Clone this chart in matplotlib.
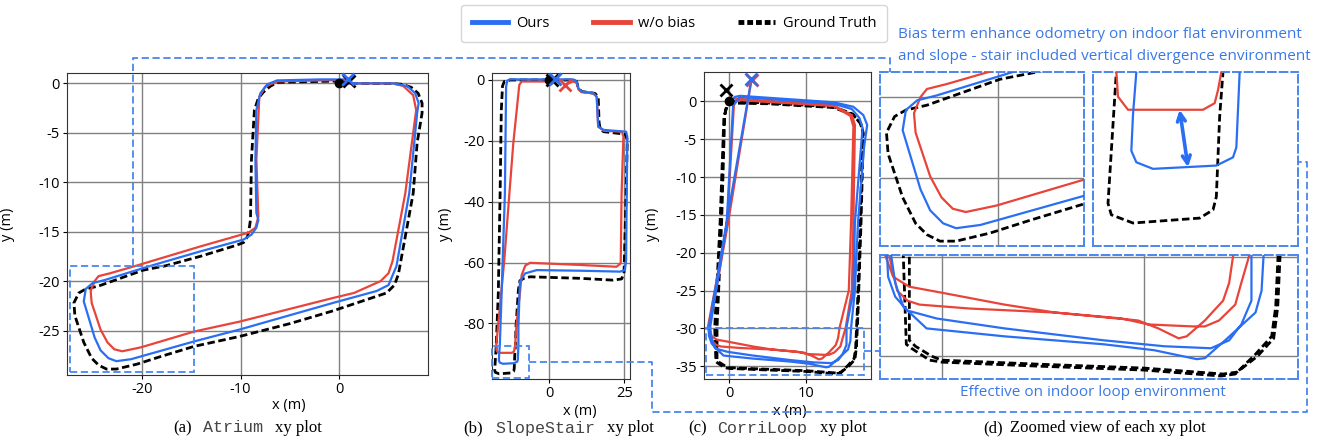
import matplotlib
matplotlib.use("Agg")
import matplotlib.pyplot as plt
from matplotlib.lines import Line2D
from matplotlib.patches import Rectangle

# ---- data (metres) ----
atrium_gt_x = [0, 3, 5.5, 6.4, 7.3, 8.0, 8.4, 8.4, 7.9, 7.5, 6.0, 5.6, 4.8, 3.6, 1.5, -0.6, -5, -10.1, -14.7,
               -18, -20.5, -22.6, -23.6, -24.4, -25.1, -25.9, -26.8, -26.9, -26.4, -25.7, -24.4, -19.9, -17.6,
               -14.1, -10.5, -9.7, -9.3, -9.1, -9.0, -8.9, -8.6, -8.2, -7.7, -7.0, -6.3, -2, 1.0]
atrium_gt_y = [0, 0, -0.02, -0.1, -0.4, -1.0, -2.0, -3.0, -6, -11.1, -19.3, -20.4, -21.2, -21.6, -22.3, -23.0,
               -24.3, -25.6, -26.6, -27.6, -28.4, -28.9, -28.9, -28.5, -27.8, -26.2, -23.5, -22.2, -21.2, -20.8,
               -20.5, -18.9, -18.45, -17.5, -16.4, -16.1, -15.5, -14.5, -13.8, -7.7, -2.7, -1.5, -0.9, -0.3, 0.1,
               0.2, 0.25]
atrium_ours_x = [0, 3, 5.5, 6.9, 7.7, 8.05, 7.9, 7.1, 5.8, 5.5, 5.0, 3.8, -0.6, -10.1, -14.7, -21.1, -22.6,
                 -23.4, -24.2, -24.8, -25.9, -25.7, -25.0, -23.8, -19.1, -14.1, -9.7, -8.9, -8.4, -8.2, -8.4,
                 -8.5, -8.4, -8.0, -7.3, -6.3, -2, 0.9]
atrium_ours_y = [0, 0, 0, -0.27, -1.0, -2.0, -3.0, -11.1, -18.5, -19.2, -20.4, -21.0, -22.2, -24.9, -26.1,
                 -27.9, -28.1, -27.8, -27.0, -25.7, -22.05, -20.8, -20.2, -19.9, -18.45, -17.0, -15.8, -15.3,
                 -14.6, -13.8, -13.1, -7.7, -2.7, -1.0, -0.1, 0.3, 0.4, 0.4]
atrium_wob_x = [0, 5.5, 6.5, 7.5, 7.8, 6.7, 5.4, 5.0, 4.2, 1.5, -0.6, -10.1, -14.7, -20.1, -22.0, -22.8, -23.5,
                -24.2, -25.1, -25.2, -24.8, -24.4, -23.2, -20.6, -14.1, -9.2, -8.5, -8.2, -8.4, -8.1, -7.5,
                -6.3, -2, 0.9]
atrium_wob_y = [0, 0, -0.27, -1.2, -2.7, -11.1, -18.0, -19.2, -20.0, -21.2, -21.7, -24.1, -25.1, -26.7, -27.1,
                -26.9, -26.2, -24.9, -22.2, -21.0, -20.0, -19.5, -19.2, -18.45, -16.5, -15.1, -14.6, -13.5,
                -7.7, -1.35, -0.34, 0.2, 0.3, 0.35]
atrium_start = (0, 0)
atrium_end_x = [0.9, 1.0, 0.9]   # w/o bias, GT, Ours
atrium_end_y = [0.35, 0.25, 0.4]

stair_gt_x = [0, -13.1, -15.0, -15.6, -16.0, -16.4, -17.0, -17.7, -18.2, -18.0, -16.7, -12.7, -11.9, -11.7,
              -11.5, -11.3, -11.1, -10.3, -9.8, -8.5, -6.4, 10.2, 21.3, 24.1, 24.9, 25.6, 26.0, 25.3, 18.1,
              17.0, 16.6, 16.3, 15.2, 10.8, 9.7, 9.1, 8.0, 0.8]
stair_gt_y = [0, 0, -0.5, -2.0, -10, -37.3, -70.1, -87.4, -95.4, -96.1, -96.6, -96.3, -95.8, -95.0, -90.1,
              -87.4, -81.1, -69.0, -66.0, -65.2, -64.7, -65.2, -65.8, -65.4, -63.6, -37.3, -19.7, -17.8, -17.0,
              -16.2, -14, -5.5, -4.4, -3.8, -2.7, -0.5, 0, 0]
stair_ours_x = [0, -13.1, -14.0, -14.4, -14.8, -15.9, -16.5, -16.7, -16.8, -16.5, -15.5, -11.7, -10.7, -10.5,
                -10.3, -10.3, -9.8, -8.1, -4.2, 10.2, 23.6, 25.2, 25.6, 26.0, 25.6, 18.1, 16.3, 15.8, 14.6,
                10.8, 9.7, 9.1, 8.0, 1.9]
stair_ours_y = [0.2, 0.2, -0.2, -2.2, -37.3, -70.1, -87.4, -90.0, -92.2, -92.9, -93.3, -93.1, -92.6, -92.0,
                -87.4, -81.1, -66.3, -63.6, -62.5, -62.7, -63.0, -62.5, -59.2, -18.6, -17.0, -16.4, -15.3,
                -5.5, -4.2, -3.8, -2.7, -0.5, 0.2, 0.2]
stair_wob_x = [0, -9.2, -10.0, -12.0, -13.3, -15.0, -17.7, -17.6, -17.0, -12.5, -11.8, -11.6, -11.4, -10.9,
               -9.8, -9.2, -8.0, -6.4, 10.2, 22.4, 23.8, 24.1, 24.7, 24.2, 18.1, 16.3, 15.8, 14.6, 10.8, 9.7,
               9.1, 8.0, 5.2]
stair_wob_y = [-0.5, -0.5, -1.6, -20.8, -37.3, -59.2, -87.4, -88.9, -89.7, -89.7, -89.3, -88.5, -87.4, -80,
               -70.1, -64.1, -61.0, -60.1, -60.8, -61.4, -60.3, -37.3, -18.6, -17.0, -16.7, -15.3, -5.5, -4.4,
               -4.0, -3.1, -0.9, -0.5, -1.6]
stair_start = (0, 0)
stair_end_x = [5.2, 0.8, 1.9]
stair_end_y = [-1.6, 0, 0.2]

corri_gt_x = [0, 5, 13.6, 16.0, 17.1, 17.4, 17.1, 16.7, 16.5, 16.3, 15.5, 14.5, 13.8, 10.0, 4.7, 0, -0.6,
              -1.5, -1.75, -1.9, -1.2, -0.7, -0.2,
              5, 13.6, 16.2, 17.2, 17.5, 17.2, 16.8, 16.6, 16.4, 15.6, 14.6, 13.9, 10.0, 4.7, 0, -0.5, -1.3,
              -1.6, -1.6, -1.0, -0.6, -0.3]
corri_gt_y = [0, -0.2, -0.7, -1.6, -2.8, -4.0, -16.0, -28.0, -32.5, -34.0, -34.9, -35.9, -36.0, -35.7, -35.5,
              -35.3, -35.2, -34.6, -34.4, -29.9, -16.0, -2.0, -0.2,
              -0.3, -0.8, -1.8, -3.0, -4.2, -16.0, -28.0, -32.5, -34.1, -35.0, -35.8, -35.9, -35.6, -35.4,
              -35.2, -35.0, -34.5, -34.2, -29.9, -16.0, -2.0, -0.3]
corri_ours_x = [0.3, 0.7, 1.4, 13.6, 16.2, 17.5, 18.0, 17.6, 16.8, 16.4, 15.9, 15.8, 15.5, 14.0, 13.0, 12.6,
                10.5, 8.0, 3.1, -0.75, -1.9, -2.3, -2.5, -0.35, 0.5,
                1.4, 13.6, 16.0, 17.0, 17.4, 16.4, 16.2, 15.3, 15.3, 14.8, 14.2, 13.3, 11.0, 8.0, 3.1, -0.25,
                -1.7, -2.3, -2.65, -2.7, -0.4, 2.9]
corri_ours_y = [0, 0.6, 0.75, -0.1, -0.7, -1.8, -3.1, -6, -16, -25, -29.9, -31.7, -32.8, -34.2, -35.1,
                -35.15, -34.7, -34.4, -34.0, -33.6, -32.5, -31.3, -29.9, -16.3, -0.5,
                0.6, -0.3, -1.0, -2.2, -3.5, -16, -25, -29.9, -32.2, -33.4, -34.2, -34.6, -34.5, -34.2, -33.6,
                -33.1, -32.7, -32.0, -31.0, -29.9, -16.3, 3.0]
corri_wob_x = [0.3, 0.5, 13.6, 16.0, 16.4, 16.2, 16.0, 15.2, 14.8, 14.5, 13.7, 13.0, 12.4, 10.2, 8.9, 5.6,
               3.1, 0, -1.6, -2.4, -2.8, -0.3, 0.6,
               1.0, 13.6, 15.8, 16.2, 15.9, 15.6, 14.4, 14.2, 13.9, 13.0, 12.1, 11.7, 10.7, 9.7, 5.6, 1.4,
               -1.1, -1.7, -2.2, -2.6, -0.2, 2.9]
corri_wob_y = [0, 0.4, -0.5, -1.8, -3.1, -16, -25, -29.9, -31.3, -32.4, -33.2, -33.5, -33.5, -33.4, -33.1,
               -32.8, -32.4, -31.8, -31.5, -31.0, -29.9, -16.3, -0.5,
               0.2, -0.6, -1.9, -3.3, -16, -25, -29.9, -31.3, -32.2, -33.2, -34.0, -34.1, -33.6, -33.2, -32.8,
               -32.6, -32.4, -32.2, -31.7, -29.9, -16.3, 2.9]
corri_start = (0, 0)
corri_end_x = [3.0, -0.4, 2.9]
corri_end_y = [2.9, 1.5, 3.0]

labels = ["Ours", "w/o bias", "Ground Truth"]
captions = [("(a)", "Atrium", "xy plot"), ("(b)", "SlopeStair", "xy plot"),
            ("(c)", "CorriLoop", "xy plot"), ("(d)", "", "Zoomed view of each xy plot")]
note_top = ["Bias term enhance odometry on indoor flat environment",
            "and slope - stair included vertical divergence environment"]
note_bottom = "Effective on indoor loop environment"

BLUE = "#2a6ef4"
RED = "#e8443a"
HL = "#4a86ee"
TXT = "#3a78e6"

W, H = 1329, 443
plt.rcParams["font.family"] = ["Open Sans", "DejaVu Sans"]
plt.rcParams["axes.unicode_minus"] = False
fig = plt.figure(figsize=(W / 100, H / 100), dpi=100)


def px_axes(l, t, r, b):
    return fig.add_axes([l / W, 1 - b / H, (r - l) / W, (b - t) / H])


def fpt(x, y):
    return x / W, 1 - y / H


def draw(ax, d, lw=1.6):
    gx, gy, ox, oy, wx, wy, start, ex, ey = d
    ax.plot(wx, wy, color=RED, lw=lw, zorder=3, solid_joinstyle="round")
    ax.plot(ox, oy, color=BLUE, lw=lw, zorder=4, solid_joinstyle="round")
    ax.plot(gx, gy, color="black", lw=lw + 0.4, ls=(0, (2.7, 1.3)), zorder=2)
    ax.plot(*start, "o", color="black", ms=6, zorder=5, clip_on=False)
    for x, y, c in zip(ex, ey, [RED, "black", BLUE]):
        ax.plot(x, y, "x", color=c, ms=8, mew=2, zorder=6, clip_on=False)


atrium = (atrium_gt_x, atrium_gt_y, atrium_ours_x, atrium_ours_y, atrium_wob_x, atrium_wob_y,
          atrium_start, atrium_end_x, atrium_end_y)
stair = (stair_gt_x, stair_gt_y, stair_ours_x, stair_ours_y, stair_wob_x, stair_wob_y,
         stair_start, stair_end_x, stair_end_y)
corri = (corri_gt_x, corri_gt_y, corri_ours_x, corri_ours_y, corri_wob_x, corri_wob_y,
         corri_start, corri_end_x, corri_end_y)

main = [
    (atrium, (67, 73, 428, 375), (-27.6, 9.0), (-29.5, 1.05), [-20, -10, 0], [0, -5, -10, -15, -20, -25],
     (289, 398), (15, 224)),
    (stair, (492, 73, 630, 379), (-19.1, 26.9), (-98.3, 2.3), [0, 25], [0, -20, -40, -60, -80],
     (580, 404), (453, 224)),
    (corri, (704, 72, 871, 379), (-3.3, 18.5), (-36.7, 3.9), [0, 10], [0, -5, -10, -15, -20, -25, -30, -35],
     (790, 404), (660, 224)),
]
axes_main = []
for d, box, xl, yl, xt, yt, xlab, ylab in main:
    ax = px_axes(*box)
    draw(ax, d)
    ax.set_xticks(xt)
    ax.set_yticks(yt)
    ax.set_xlim(*xl)
    ax.set_ylim(*yl)
    ax.grid(True, color="0.5", lw=1)
    ax.set_axisbelow(True)
    ax.tick_params(labelsize=10.5, length=3, width=0.8, pad=2)
    for s in ax.spines.values():
        s.set_color("#333333")
    ax.set_xlabel("x (m)", fontsize=10.5)
    ax.set_ylabel("y (m)", fontsize=10.5)
    l, t, r, b = box
    ax.xaxis.set_label_coords((xlab[0] - l) / (r - l), 1 - (xlab[1] - t) / (b - t))
    ax.yaxis.set_label_coords((ylab[0] - l) / (r - l), 1 - (ylab[1] - t) / (b - t))
    axes_main.append(ax)
ax_a, ax_b, ax_c = axes_main

zooms = [
    (ax_a, atrium, (880, 72, 1084, 246), (-27.3, -14.7), (-29.2, -18.45), [-20, -10, 0], [-20, -25]),
    (ax_b, stair, (1093, 72, 1298, 246), (-19.1, -6.8), (-98.0, -87.4), [0, 25], [-80, -100]),
    (ax_c, corri, (880, 255, 1298, 379), (-3.05, 17.6), (-36.15, -29.9), [0, 10], [-30, -35]),
]
for src, d, box, xl, yl, xt, yt in zooms:
    src.add_patch(Rectangle((xl[0], yl[0]), xl[1] - xl[0], yl[1] - yl[0], fill=False, ec=HL, lw=1.3,
                            ls=(0, (4, 2)), zorder=7, clip_on=False))
    ax = px_axes(*box)
    draw(ax, d)
    ax.set_xticks(xt)
    ax.set_yticks(yt)
    ax.set_xlim(*xl)
    ax.set_ylim(*yl)
    ax.grid(True, color="0.5", lw=1)
    ax.set_axisbelow(True)
    ax.tick_params(length=0, labelbottom=False, labelleft=False)
    for s in ax.spines.values():
        s.set_color(HL)
        s.set_linestyle((0, (4, 2)))
        s.set_linewidth(1.4)
    if d is stair:
        ax.annotate("", xy=(-13.4, -93.2), xytext=(-13.9, -89.7),
                    arrowprops=dict(arrowstyle="<->", color=BLUE, lw=2.6, mutation_scale=14,
                                    shrinkA=0, shrinkB=0))

# connectors between the boxes and the zoomed views
paths = [
    [(133, 266), (133, 57.5), (890, 57.5), (890, 72)],
    [(529, 362), (652, 362), (652, 412), (1307, 412), (1307, 162), (1298, 162)],
    [(864, 351), (880, 351)],
]
for p in paths:
    pts = [fpt(*q) for q in p]
    fig.add_artist(Line2D([q[0] for q in pts], [q[1] for q in pts], transform=fig.transFigure,
                          color=HL, lw=1.3, ls=(0, (4, 2)), zorder=8))

fig.text(*fpt(898, 35), note_top[0], color=TXT, fontsize=11, va="center", ha="left")
fig.text(*fpt(898, 56), note_top[1], color=TXT, fontsize=11, va="center", ha="left")
fig.text(*fpt(1093, 393), note_bottom, color=TXT, fontsize=11, va="center", ha="center")

handles = [Line2D([], [], color=BLUE, lw=3.5), Line2D([], [], color=RED, lw=3.5),
           Line2D([], [], color="black", lw=3.5, ls=(0, (1.2, 0.6)))]
fig.legend(handles, labels, loc="upper center", bbox_to_anchor=fpt(674, 5), ncol=3, fontsize=10.5,
           handlelength=2.5, handletextpad=0.55, columnspacing=3.0, borderpad=0.75, borderaxespad=0,
           frameon=True, edgecolor="#cccccc", fancybox=True)

# captions
cap_pos = [(173, 203, 275), (463, 495, 607), (688, 717, 820), (983, 1010, 1010)]
for (tag, name, rest), (x1, x2, x3) in zip(captions, cap_pos):
    fig.text(*fpt(x1, 428), tag, family="Liberation Serif", fontsize=12, va="center")
    if name:
        fig.text(*fpt(x2, 428), name, family="Liberation Mono", fontsize=12, va="center", color="#444444")
    fig.text(*fpt(x3, 428), rest, family="Liberation Serif", fontsize=12, va="center")

fig.savefig("out.png", dpi=100)
